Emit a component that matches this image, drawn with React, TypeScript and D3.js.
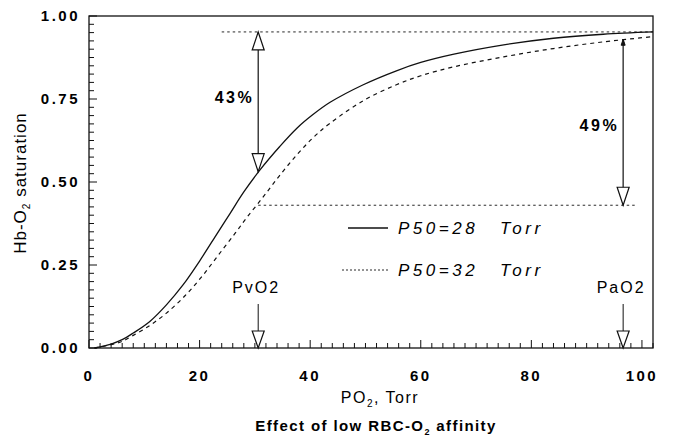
import React from 'react';
import * as d3 from 'd3';

// P50 = 28 Torr (solid)
const po2Solid = [1, 4, 6, 8, 11, 14, 17, 20, 23, 25.5, 28, 31, 34.5, 37.6, 40.5, 43.6, 49.6, 55.6, 60, 66, 75, 84, 93, 102];
const satSolid = [0, 0.012, 0.025, 0.045, 0.08, 0.13, 0.19, 0.262, 0.34, 0.405, 0.47, 0.538, 0.607, 0.662, 0.703, 0.74, 0.793, 0.835, 0.86, 0.885, 0.913, 0.933, 0.945, 0.952];
// P50 = 32 Torr (dashed)
const po2Dashed = [1, 4, 6, 8, 11, 14, 17.4, 20.4, 23.4, 26.4, 28.5, 31.5, 34.5, 37.6, 40.5, 43.6, 49.6, 55.6, 60, 66, 75, 84, 93, 102];
const satDashed = [0, 0.01, 0.02, 0.038, 0.068, 0.105, 0.158, 0.215, 0.28, 0.345, 0.392, 0.455, 0.52, 0.582, 0.633, 0.677, 0.745, 0.793, 0.82, 0.847, 0.877, 0.902, 0.922, 0.938];

const xTicks = [0, 20, 40, 60, 80, 100];
const yTicks = [0, 0.25, 0.5, 0.75, 1];
const yTickLabels = ['0.00', '0.25', '0.50', '0.75', '1.00'];

const pvO2 = 30.6;
const paO2 = 96.6;
const satTop = 0.952;
const satLow = 0.43;
const satAtPv = 0.531;
const satAtPa = 0.93;

const W = 673;
const H = 438;
const m = { left: 89, right: 653, top: 16, bottom: 348 };

const x = d3.scaleLinear().domain([0, 102]).range([m.left, m.right]);
const y = d3.scaleLinear().domain([0, 1]).range([m.bottom, m.top]);

const line = d3.line<[number, number]>()
  .x(d => x(d[0]))
  .y(d => y(d[1]))
  .curve(d3.curveCatmullRom.alpha(0.5));

const solidPts = po2Solid.map((p, i) => [p, satSolid[i]] as [number, number]);
const dashedPts = po2Dashed.map((p, i) => [p, satDashed[i]] as [number, number]);

// open triangle arrow head, dir 1 = pointing down, -1 = pointing up
const head = (cx: number, tip: number, dir: number, w = 6, len = 18) =>
  `M${cx},${tip}L${cx - w},${tip - dir * len}L${cx + w},${tip - dir * len}Z`;

const boldNum: React.CSSProperties = {
  fontFamily: 'Liberation Sans, Arial, sans-serif',
  fontWeight: 'bold',
  fontSize: 15,
  letterSpacing: 2.5,
};

export default function App() {
  const xMinor = d3.range(0, 103, 2);
  const yMinor = d3.range(0, 1.0001, 0.025);
  const stroke = '#111';

  return (
    <svg width={W} height={H} style={{ position: 'absolute', left: 0, top: 0, background: '#fff' }}
      fontFamily="Liberation Sans, Arial, sans-serif">
      {/* frame */}
      <rect x={m.left} y={m.top} width={m.right - m.left} height={m.bottom - m.top}
        fill="none" stroke={stroke} strokeWidth={1.3} />

      {/* x ticks */}
      {xMinor.map(t => (
        <line key={'xm' + t} x1={x(t)} x2={x(t)} y1={m.bottom} y2={m.bottom - (t % 20 === 0 ? 8 : 5)}
          stroke={stroke} strokeWidth={1} />
      ))}
      {/* y ticks */}
      {yMinor.map((t, i) => (
        <line key={'ym' + i} x1={m.left} x2={m.left + (i % 10 === 0 ? 8 : 5)} y1={y(t)} y2={y(t)}
          stroke={stroke} strokeWidth={1} />
      ))}

      {xTicks.map(t => (
        <text key={'xl' + t} x={x(t)} y={381} textAnchor="middle" style={boldNum}>{t}</text>
      ))}
      {yTicks.map((t, i) => (
        <text key={'yl' + t} x={80} y={y(t) + 5} textAnchor="end" style={boldNum}>{yTickLabels[i]}</text>
      ))}

      {/* curves */}
      <path d={line(solidPts) || ''} fill="none" stroke={stroke} strokeWidth={1.3} />
      <path d={line(dashedPts) || ''} fill="none" stroke={stroke} strokeWidth={1.2} strokeDasharray="4,4" />

      {/* reference dotted lines */}
      <line x1={x(24)} x2={m.right} y1={y(satTop)} y2={y(satTop)} stroke={stroke} strokeWidth={0.9} strokeDasharray="2.5,3" />
      <line x1={x(pvO2)} x2={x(99)} y1={y(satLow)} y2={y(satLow)} stroke={stroke} strokeWidth={0.9} strokeDasharray="2.5,3" />

      {/* 43% arrow */}
      <line x1={x(pvO2)} x2={x(pvO2)} y1={y(satTop)} y2={y(satAtPv)} stroke={stroke} strokeWidth={1.2} />
      <path d={head(x(pvO2), y(satTop), -1)} fill="#fff" stroke={stroke} strokeWidth={1.2} />
      <path d={head(x(pvO2), y(satAtPv), 1)} fill="#fff" stroke={stroke} strokeWidth={1.2} />
      <text x={x(pvO2) - 4} y={103} textAnchor="end" style={{ ...boldNum, fontSize: 16 }}>43%</text>

      {/* 49% arrow */}
      <line x1={x(paO2)} x2={x(paO2)} y1={y(satAtPa)} y2={y(satLow)} stroke={stroke} strokeWidth={1.2} />
      <path d={head(x(paO2), y(satAtPa), -1, 2, 6)} fill={stroke} stroke={stroke} strokeWidth={1} />
      <path d={head(x(paO2), y(satLow), 1)} fill="#fff" stroke={stroke} strokeWidth={1.2} />
      <text x={x(paO2) - 4} y={131} textAnchor="end" style={{ ...boldNum, fontSize: 16 }}>49%</text>

      {/* PvO2 / PaO2 markers */}
      {[['PvO2', pvO2], ['PaO2', paO2]].map(([lab, v]) => (
        <g key={lab as string}>
          <text x={x(v as number) - 2} y={293} textAnchor="middle" fontSize={16} letterSpacing={2}>{lab}</text>
          <line x1={x(v as number)} x2={x(v as number)} y1={304} y2={m.bottom} stroke={stroke} strokeWidth={1} />
          <path d={head(x(v as number), m.bottom, 1, 6, 17)} fill="#fff" stroke={stroke} strokeWidth={1.2} />
        </g>
      ))}

      {/* legend */}
      <line x1={348} x2={388} y1={228} y2={228} stroke={stroke} strokeWidth={1.3} />
      <text y={234} fontSize={17} fontStyle="italic" letterSpacing={3.5}>
        <tspan x={398}>P50=28</tspan><tspan x={500}>Torr</tspan>
      </text>
      <line x1={342} x2={388} y1={270} y2={270} stroke={stroke} strokeWidth={0.9} strokeDasharray="2,2" />
      <text y={276} fontSize={17} fontStyle="italic" letterSpacing={3.5}>
        <tspan x={398}>P50=32</tspan><tspan x={500}>Torr</tspan>
      </text>

      {/* axis titles */}
      <text x={380} y={403} textAnchor="middle" fontSize={16} letterSpacing={1.5}>
        PO<tspan fontSize={10} dy={4}>2</tspan><tspan dy={-4}>,  Torr</tspan>
      </text>
      <text transform={`translate(26,${183}) rotate(-90)`} textAnchor="middle" fontSize={17} letterSpacing={1}>
        Hb-O<tspan fontSize={10} dy={4}>2</tspan><tspan dy={-4}>  saturation</tspan>
      </text>
      <text x={376} y={431} textAnchor="middle" fontSize={15} fontWeight="bold" letterSpacing={1.4}>
        Effect of low RBC-O<tspan fontSize={9} dy={4}>2</tspan><tspan dy={-4}> affinity</tspan>
      </text>
    </svg>
  );
}
